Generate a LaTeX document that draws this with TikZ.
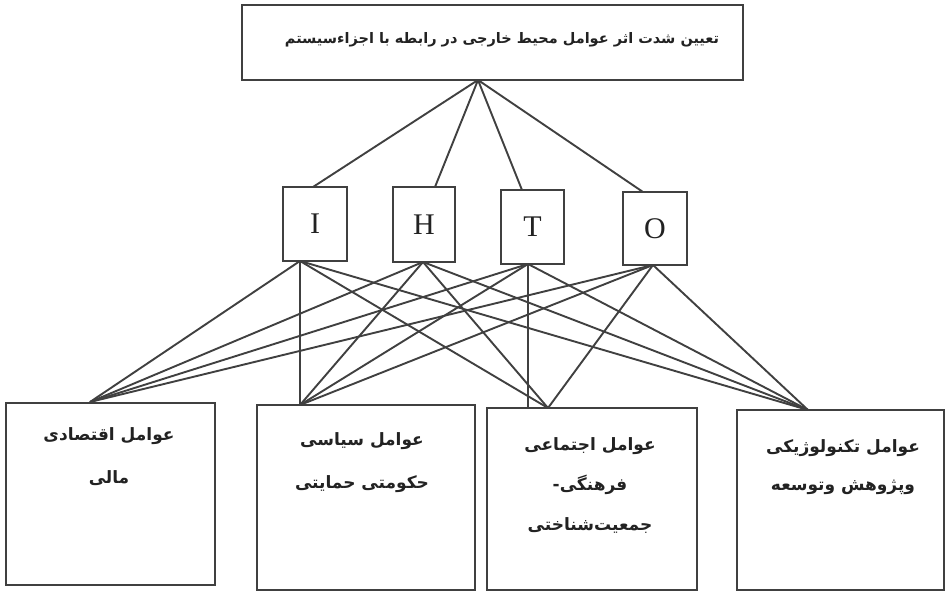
\documentclass[tikz,border=0pt]{standalone}
\usepackage{fontspec}
\TeXXeTstate=1
\newfontfamily\arabicfont[Script=Arabic]{DejaVu Sans}
\newfontfamily\latinserif{Liberation Serif}
\definecolor{ink}{HTML}{404040}
\definecolor{txt}{HTML}{222222}
\begin{document}
\begin{tikzpicture}[x=1pt,y=-1pt,
  box/.style={draw=ink,line width=1.9pt,rectangle,inner sep=0pt},
  letterbox/.style={box,minimum width=63pt,minimum height=74pt,font=\latinserif\fontsize{30}{32}\selectfont,text=txt},
  fa/.style={font=\arabicfont\bfseries\fontsize{17}{43}\selectfont,text=txt,align=center,inner sep=0pt},
  link/.style={draw=ink,line width=1.9pt}]
\useasboundingbox (0,0) rectangle (948,593);
% top box
\node[box,minimum width=501pt,minimum height=75pt] (top) at (492.5,42.5) {};
\node[fa,font=\arabicfont\bfseries\fontsize{14.5}{16}\selectfont] (toptxt) at (502,40) {\beginR تعیین شدت اثر عوامل محیط خارجی در رابطه با اجزاءسیستم\endR};
% letter boxes
\node[letterbox,minimum width=64pt] (I) at (315,224) {I};
\node[letterbox,minimum width=62pt,minimum height=75pt] (H) at (424,224.5) {H};
\node[letterbox] (T) at (532.5,227) {T};
\node[letterbox,minimum width=64pt,minimum height=73pt] (O) at (655,228.5) {O};
% bottom boxes
\node[box,minimum width=209pt,minimum height=182pt] (B1) at (110.5,494) {};
\node[box,minimum width=218pt,minimum height=185pt] (B2) at (366,497.5) {};
\node[box,minimum width=210pt,minimum height=182pt] (B3) at (592,499) {};
\node[box,minimum width=207pt,minimum height=180pt] (B4) at (840.5,500) {};
\node[fa,anchor=north] (t1) at (109,427) {\beginR عوامل اقتصادی\endR\\\beginR مالی\endR};
\node[fa,anchor=north] (t2) at (362,432) {\beginR عوامل سیاسی\endR\\\beginR حکومتی حمایتی\endR};
\node[fa,anchor=north,font=\arabicfont\bfseries\fontsize{17}{40}\selectfont] (t3) at (590,437) {\beginR عوامل اجتماعی\endR\\\beginR فرهنگی-\endR\\\beginR جمعیت‌شناختی\endR};
\node[fa,anchor=north,font=\arabicfont\bfseries\fontsize{17}{38}\selectfont] (t4) at (843,439) {\beginR عوامل تکنولوژیکی\endR\\\beginR وپژوهش وتوسعه\endR};
% connection points
\coordinate (apex) at (478,80);
\coordinate (It) at (313,187);
\coordinate (Ht) at (435,187);
\coordinate (Tt) at (522,190);
\coordinate (Ot) at (643,192);
\coordinate (Ib) at (300,261);
\coordinate (Hb) at (423,262);
\coordinate (Tb) at (528,264);
\coordinate (Ob) at (653,265);
\coordinate (P1) at (90,402);
\coordinate (P2) at (300,405);
\coordinate (P3) at (548,408);
\coordinate (P3v) at (528,408);
\coordinate (P4) at (808,410);
% upper links
\foreach \c in {It,Ht,Tt,Ot} \draw[link] (apex) -- (\c);
% lower links
\foreach \s in {Ib,Hb,Tb,Ob} {
  \draw[link] (\s) -- (P1);
  \draw[link] (\s) -- (P4);
}
\draw[link] (Ib) -- (P2);
\draw[link] (Hb) -- (P2);
\draw[link] (Tb) -- (P2);
\draw[link] (Ob) -- (P2);
\draw[link] (Ib) -- (P3);
\draw[link] (Hb) -- (P3);
\draw[link] (Tb) -- (P3v);
\draw[link] (Ob) -- (P3);
\end{tikzpicture}
\end{document}
